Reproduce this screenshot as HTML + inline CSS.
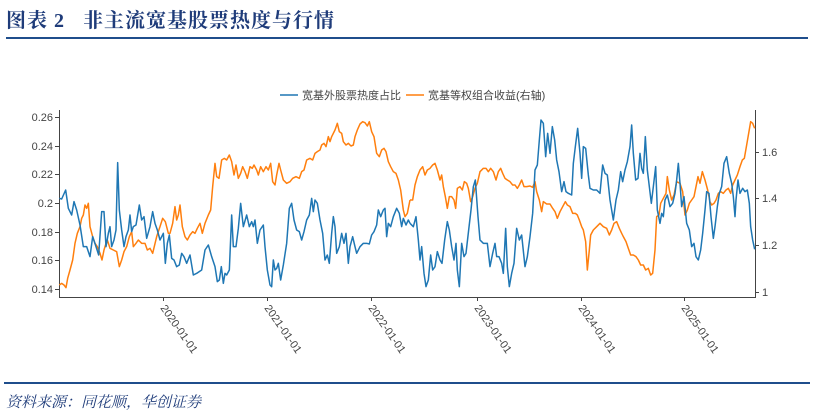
<!DOCTYPE html>
<html><head><meta charset="utf-8"><style>
body{margin:0;background:#fff;width:814px;height:414px;overflow:hidden;position:relative;font-family:"Liberation Sans","Noto Sans CJK SC",sans-serif}
.t{position:absolute;left:6px;top:4px;font-size:20px;font-weight:bold;color:#1f3c7a;font-family:"Liberation Serif","Noto Serif CJK SC",serif;letter-spacing:1px}
.r1{position:absolute;left:6px;top:37px;width:802px;height:2px;background:#1f4e8c}
.r2{position:absolute;left:4px;top:382px;width:806px;height:2px;background:#1f4e8c}
.s{position:absolute;left:6px;top:391px;font-size:15px;font-style:italic;color:#1f3c7a;font-family:"Liberation Serif","Noto Serif CJK SC",serif}
svg{position:absolute;left:0;top:0}
text{font-family:"Liberation Sans","Noto Sans CJK SC",sans-serif;fill:#444;font-size:11px}
</style></head><body>
<div class="t">图表 2&nbsp;&nbsp;&nbsp;非主流宽基股票热度与行情</div>
<div class="r1"></div>
<svg width="814" height="414">
<g stroke="#444" stroke-width="1" fill="none">
<path d="M59.5,110V297.5H755.5V110"/>
<path d="M55,117.5h4M55,146.5h4M55,174.5h4M55,203.5h4M55,232.5h4M55,260.5h4M55,289.5h4"/>
<path d="M755,152.5h4M755,198.5h4M755,245.5h4M755,292.5h4"/>
<path d="M163.5,297v4M267.5,297v4M371.5,297v4M477.5,297v4M581.5,297v4M684.5,297v4"/>
</g>
<g text-anchor="end">
<text x="53" y="121">0.26</text><text x="53" y="150">0.24</text><text x="53" y="178">0.22</text><text x="53" y="207">0.2</text><text x="53" y="236">0.18</text><text x="53" y="264">0.16</text><text x="53" y="293">0.14</text>
</g>
<g><text x="762" y="156">1.6</text><text x="762" y="202">1.4</text><text x="762" y="249">1.2</text><text x="762" y="296">1</text></g>
<g font-size="10">
<text transform="translate(160,308) rotate(55)">2020-01-01</text>
<text transform="translate(264,308) rotate(55)">2021-01-01</text>
<text transform="translate(368,308) rotate(55)">2022-01-01</text>
<text transform="translate(474,308) rotate(55)">2023-01-01</text>
<text transform="translate(578,308) rotate(55)">2024-01-01</text>
<text transform="translate(681,308) rotate(55)">2025-01-01</text>
</g>
<line x1="280" y1="95" x2="298" y2="95" stroke="#1f77b4" stroke-width="1.5"/>
<text x="302" y="99" font-size="10">宽基外股票热度占比</text>
<line x1="406" y1="95" x2="424" y2="95" stroke="#ff7f0e" stroke-width="1.5"/>
<text x="428" y="99" font-size="10">宽基等权组合收益(右轴)</text>
<g fill="none" stroke-width="1.5" stroke-linejoin="round">
<g transform="translate(20,100) scale(0.33333)">
<polyline vector-effect="non-scaling-stroke" stroke="#ff7f0e" points="118,555 125,550 132,555 138,563 143,535 150,510 158,480 165,430 172,400 180,380 185,355 190,345 195,315 200,325 205,310 210,380 218,410 225,430 232,440 240,460 246,480 252,450 258,430 262,420 270,445 280,450 290,455 298,500 305,480 312,455 320,440 328,410 335,395 340,440 348,430 355,420 365,430 375,430 382,450 390,445 398,460 410,410 420,380 428,355 436,365 445,400 450,400 458,370 465,320 470,360 475,345 480,315 487,380 495,410 502,420 510,405 518,395 525,400 532,385 540,370 547,400 555,370 565,345 572,330 578,260 585,190 590,230 597,235 605,180 613,175 620,180 628,165 635,185 642,225 648,195 655,235 662,220 668,200 675,215 682,235 690,200 697,205 702,195 710,210 715,225 722,200 730,215 738,200 745,210 752,190 758,245 765,255 770,225 777,190 782,210 790,240 800,250 810,245 818,235 828,230 838,235 845,215 852,210 860,180 870,175 878,180 885,160 892,155 900,150 905,135 912,130 918,140 925,110 930,125 935,110 945,90 952,70 958,95 965,100 970,125 978,135 985,130 993,138 1000,135 1005,110 1012,90 1020,72 1028,65 1035,68 1042,78 1048,65 1055,95 1062,110 1070,160 1078,170 1085,150 1092,145 1098,155 1105,185 1112,200 1120,215 1128,220 1135,240 1142,270 1150,330 1155,350 1162,340 1170,300"/>
<polyline vector-effect="non-scaling-stroke" stroke="#1f77b4" points="118,295 125,297 137,270 145,325 155,345 162,305 170,330 180,375 190,440 200,440 210,470 218,410 228,440 236,465 245,335 252,335 258,440 265,400 270,380 275,440 282,420 288,390 293,188 298,330 305,390 312,440 318,410 325,390 330,345 335,395 340,380 348,375 358,315 365,360 372,350 380,415 390,380 398,335 405,370 412,390 420,420 430,400 436,490 442,430 448,405 455,475 462,480 470,500 478,495 485,460 492,470 500,490 510,465 520,525 530,520 545,510 555,450 565,435 575,470 585,500 592,545 598,540 604,500 610,550 615,520 620,525 628,510 635,345 640,440 648,440 655,385 662,310 670,380 680,345 688,380 695,365 700,380 705,360 712,430 720,390 730,375 735,440 742,510 750,555 755,560 760,480 765,510 770,505 775,490 782,540 790,495 800,430 808,325 815,310 822,360 830,390 838,395 845,420 852,395 860,360 868,345 875,295 880,335 885,300 892,310 900,360 908,400 915,480 922,465 928,490 935,400 940,350 945,380 950,460 958,440 965,400 972,430 978,400 985,490 990,440 998,410 1005,440 1010,460 1020,440 1030,430 1040,430 1048,432 1055,405 1062,395 1070,375 1075,330 1082,350 1090,330 1095,325 1100,410 1105,370 1112,380 1120,350 1130,325 1138,340 1145,380 1150,355 1158,375 1165,360 1170,370"/>
</g>
<g transform="translate(410,100) scale(0.33333)">
<polyline vector-effect="non-scaling-stroke" stroke="#ff7f0e" points="0,300 8,300 15,255 22,230 30,210 38,200 45,225 52,210 60,205 68,195 75,190 82,210 90,240 95,225 100,260 106,290 112,325 118,290 125,290 132,300 137,325 142,265 150,260 157,270 163,245 170,250 175,265 182,305 188,290 195,265 202,250 210,215 220,205 228,205 235,215 242,205 250,215 258,240 265,215 272,205 278,220 285,235 292,240 300,245 308,255 315,255 322,265 328,255 335,240 342,260 350,260 360,258 368,262 375,245 380,275 388,300 395,335 400,305 410,312 420,312 428,325 435,335 442,355 450,335 458,320 466,305 472,315 480,320 488,340 496,340 502,345 508,360 515,380 520,390 527,425 532,510 538,450 542,405 550,390 560,380 570,370 580,380 590,385 598,405 605,390 612,370 620,365 628,385 635,400 640,410 648,425 655,445 662,465 670,465 678,470 685,480 692,495 700,495 707,510 715,505 722,525 728,520 735,450 740,350 747,345 752,310 760,295 768,280 772,230 778,270 785,300 792,285 800,245 810,250 818,275 825,345 832,330 838,310 845,300 852,290 858,260 864,230 870,250 877,215 885,240 893,270 900,305 905,315 912,310 918,300 925,280 932,275 940,280 948,270 955,265 962,280 968,255 975,240 982,225 990,200 997,180 1003,175 1010,135 1016,100 1022,65 1028,70 1034,85"/>
<polyline vector-effect="non-scaling-stroke" stroke="#1f77b4" points="0,370 10,380 18,350 25,420 30,480 35,440 42,520 48,560 55,540 62,465 68,510 75,500 82,455 90,480 96,490 104,420 112,365 118,390 125,440 132,480 138,430 142,510 148,560 155,430 162,470 168,460 176,390 183,330 190,260 196,240 204,350 210,420 220,430 232,430 240,500 248,460 255,430 260,470 267,470 275,490 280,520 287,385 292,500 298,560 305,520 312,490 320,385 328,420 335,405 345,500 352,470 360,410 368,340 375,210 382,195 388,120 393,60 400,70 407,170 413,100 420,160 427,80 434,120 440,180 447,215 455,275 462,245 468,275 475,280 485,285 490,190 496,140 503,85 510,160 515,235 520,140 527,145 535,225 540,265 550,270 560,270 570,280 578,195 585,220 592,225 600,300 610,360 618,300 625,270 632,215 638,245 645,210 652,185 660,140 665,75 670,160 677,240 684,235 690,160 695,205 700,220 706,110 712,210 718,260 724,310 730,260 737,200 742,330 750,370 755,340 760,350 765,300 772,285 780,320 788,310 795,280 800,240 805,190 810,250 815,320 822,290 826,330 830,370 838,390 845,440 852,430 858,470 865,480 872,450 878,400 885,330 890,275 897,280 903,350 910,415 915,380 922,320 928,280 935,260 942,190 950,170 958,220 965,250 970,290 975,350 978,300 984,240 990,280 998,265 1005,275 1012,270 1018,310 1022,380 1028,420 1034,448"/>
</g>
</g>
</svg>
<div class="r2"></div>
<div class="s">资料来源：同花顺，华创证券</div>
</body></html>
